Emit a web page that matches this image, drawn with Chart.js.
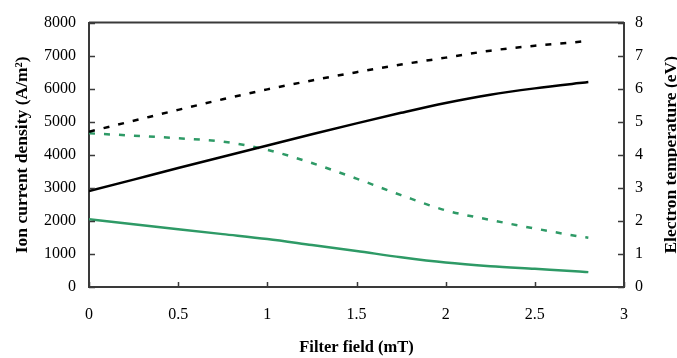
<!DOCTYPE html>
<html>
<head>
<meta charset="utf-8">
<script src="https://cdn.jsdelivr.net/npm/chart.js@4.4.0/dist/chart.umd.min.js"></script>
<style>
  html, body { margin: 0; padding: 0; background: #fff; }
  #wrap { width: 677px; height: 358px; }
</style>
</head>
<body>
<div id="wrap"><canvas id="chart" width="677" height="358"></canvas></div>
<script>
// filter field (mT)
var fieldX = [0, 0.25, 0.5, 0.75, 1, 1.25, 1.5, 1.75, 2, 2.25, 2.5, 2.75, 2.8];
// ion current density (A/m2)
var ionBlack = [2900, 3250, 3600, 3940, 4280, 4620, 4950, 5270, 5570, 5820, 6010, 6170, 6200];
var ionGreen = [2050, 1900, 1750, 1600, 1450, 1270, 1090, 900, 740, 630, 550, 470, 450];
// electron temperature (eV)
var teBlack = [4.7, 5.03, 5.36, 5.68, 5.98, 6.25, 6.5, 6.73, 6.94, 7.15, 7.3, 7.42, 7.45];
var teGreen = [4.65, 4.58, 4.5, 4.4, 4.15, 3.75, 3.28, 2.78, 2.32, 2.03, 1.77, 1.53, 1.49];

var green = '#2e9a66';
var axisColor = '#3a3a3a';
var serif = 'Liberation Serif';

function pts(ys) {
    return fieldX.map(function(x, i) { return {x: x, y: ys[i]}; });
}

function plain(v) { return String(v); }

// ticks point inward, top frame line, right title reading upward
var frame = {
    id: 'frame',
    afterDraw: function(chart) {
        var ctx = chart.ctx, a = chart.chartArea;
        var sx = chart.scales.x, sy = chart.scales.y, sy1 = chart.scales.y1;
        ctx.save();
        ctx.strokeStyle = axisColor;
        ctx.lineWidth = 1.5;
        ctx.beginPath();
        sy.ticks.forEach(function(t) {
            var p = Math.round(sy.getPixelForValue(t.value)) + 0.5;
            ctx.moveTo(a.left, p); ctx.lineTo(a.left + 6, p);
        });
        sy1.ticks.forEach(function(t) {
            var p = Math.round(sy1.getPixelForValue(t.value)) + 0.5;
            ctx.moveTo(a.right, p); ctx.lineTo(a.right - 6, p);
        });
        sx.ticks.forEach(function(t) {
            var p = Math.round(sx.getPixelForValue(t.value)) + 0.5;
            ctx.moveTo(p, a.bottom); ctx.lineTo(p, a.bottom - 5);
        });
        ctx.stroke();
        ctx.lineWidth = 2;
        ctx.beginPath();
        ctx.moveTo(a.left, a.top); ctx.lineTo(a.right, a.top);
        ctx.stroke();

        ctx.translate(671, (a.top + a.bottom) / 2);
        ctx.rotate(-Math.PI / 2);
        ctx.fillStyle = '#000';
        ctx.font = 'bold 17.5px "' + serif + '"';
        ctx.textAlign = 'center';
        ctx.textBaseline = 'middle';
        ctx.fillText('Electron temperature (eV)', 0, 0);
        ctx.restore();
    }
};

new Chart(document.getElementById('chart'), {
    type: 'line',
    data: {
        datasets: [
            { data: pts(teBlack), yAxisID: 'y1', borderColor: '#000', borderWidth: 2.5, borderDash: [6, 9] },
            { data: pts(ionBlack), yAxisID: 'y', borderColor: '#000', borderWidth: 2.5 },
            { data: pts(teGreen), yAxisID: 'y1', borderColor: green, borderWidth: 2.5, borderDash: [6, 9] },
            { data: pts(ionGreen), yAxisID: 'y', borderColor: green, borderWidth: 2.5 }
        ]
    },
    options: {
        responsive: false,
        animation: false,
        events: [],
        layout: { padding: { top: 17, left: 0, right: 0, bottom: 0 } },
        elements: {
            point: { radius: 0 },
            line: { cubicInterpolationMode: 'monotone', fill: false, borderCapStyle: 'butt' }
        },
        plugins: { legend: { display: false }, tooltip: { enabled: false } },
        scales: {
            x: {
                type: 'linear', min: 0, max: 3,
                ticks: { stepSize: 0.5, padding: 18, color: '#000', callback: plain,
                         font: { family: serif, size: 16 } },
                grid: { display: false, drawTicks: false },
                border: { display: true, color: axisColor, width: 2 },
                title: { display: true, text: 'Filter field (mT)', color: '#000', padding: 0,
                         font: { family: serif, size: 16.5, weight: 'bold' } },
                afterFit: function(s) { s.height = 71; }
            },
            y: {
                position: 'left', min: 0, max: 8000,
                ticks: { stepSize: 1000, padding: 13, color: '#000', callback: plain,
                         font: { family: serif, size: 16 } },
                grid: { display: false, drawTicks: false },
                border: { display: true, color: axisColor, width: 2 },
                title: { display: true, text: 'Ion current density (A/m²)', color: '#000', padding: 12,
                         font: { family: serif, size: 17.5, weight: 'bold' } },
                afterFit: function(s) { s.width = 89; }
            },
            y1: {
                position: 'right', min: 0, max: 8,
                ticks: { stepSize: 1, padding: 11, color: '#000', callback: plain,
                         font: { family: serif, size: 16 } },
                grid: { display: false, drawTicks: false },
                border: { display: true, color: axisColor, width: 2 },
                afterFit: function(s) { s.width = 53; }
            }
        }
    },
    plugins: [frame]
});
</script>
</body>
</html>
